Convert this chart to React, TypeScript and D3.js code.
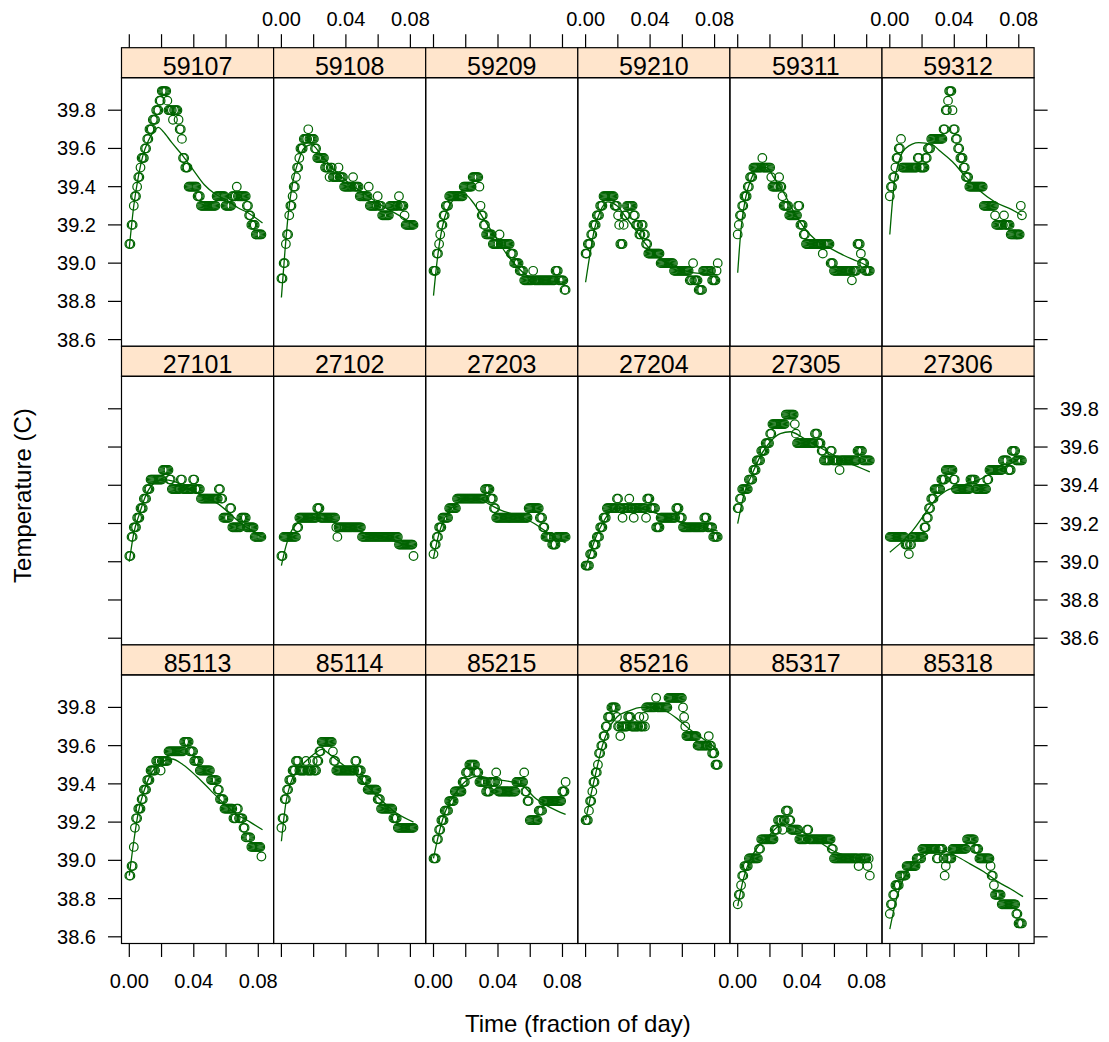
import React from 'react';
import * as d3 from 'd3';

// panel labels, in the order they are shown (left to right, top to bottom)
const panelIds = [
  '59107', '59108', '59209', '59210', '59311', '59312',
  '27101', '27102', '27203', '27204', '27305', '27306',
  '85113', '85114', '85215', '85216', '85317', '85318',
];

// readings one minute apart, written as [temperature, number of consecutive readings]
const runs59107 = [[39.10,2],[39.20,2],[39.30,1],[39.35,2],[39.40,1],[39.45,2],[39.50,1],[39.55,3],[39.60,2],[39.65,2],[39.70,3],[39.75,3],[39.80,3],[39.85,2],[39.90,5],[39.85,1],[39.80,4],[39.75,1],[39.80,4],[39.75,1],[39.70,2],[39.65,1],[39.55,2],[39.50,3],[39.40,8],[39.35,3],[39.30,14],[39.35,8],[39.30,6],[39.35,4],[39.40,1],[39.35,8],[39.30,2],[39.25,2],[39.20,4],[39.15,6]];
const runs59108 = [[38.92,2],[39.00,2],[39.10,1],[39.15,2],[39.25,1],[39.30,2],[39.35,1],[39.40,2],[39.45,1],[39.50,2],[39.55,1],[39.60,3],[39.65,4],[39.70,1],[39.65,5],[39.60,2],[39.55,7],[39.50,4],[39.45,1],[39.50,2],[39.45,5],[39.50,1],[39.45,4],[39.40,8],[39.45,1],[39.40,5],[39.35,8],[39.40,1],[39.30,7],[39.35,1],[39.30,3],[39.25,7],[39.30,8],[39.35,1],[39.30,4],[39.25,1],[39.20,8]];
const runs59209 = [[38.96,3],[39.05,2],[39.10,1],[39.15,1],[39.20,2],[39.25,2],[39.30,3],[39.35,13],[39.40,8],[39.45,6],[39.40,1],[39.30,1],[39.25,2],[39.20,2],[39.15,6],[39.10,6],[39.15,1],[39.10,9],[39.05,3],[39.00,5],[38.96,4],[38.91,8],[38.96,1],[38.91,19],[38.96,3],[38.91,5],[38.86,2]];
const runs59210 = [[39.05,2],[39.10,3],[39.15,2],[39.20,3],[39.25,3],[39.30,3],[39.35,10],[39.30,3],[39.25,1],[39.20,1],[39.10,3],[39.20,1],[39.25,2],[39.30,6],[39.25,2],[39.20,3],[39.15,2],[39.20,2],[39.15,2],[39.10,2],[39.05,11],[39.00,12],[38.96,14],[38.91,3],[39.00,1],[38.91,4],[38.86,4],[38.96,8],[38.91,4],[38.96,1],[39.00,1]];
const runs59311 = [[39.15,1],[39.20,1],[39.25,2],[39.30,2],[39.35,3],[39.40,2],[39.45,3],[39.50,8],[39.55,1],[39.50,7],[39.45,1],[39.40,6],[39.45,1],[39.40,2],[39.35,1],[39.30,5],[39.25,8],[39.30,2],[39.20,3],[39.15,2],[39.10,15],[39.05,1],[39.10,6],[39.00,3],[38.96,16],[38.91,1],[38.96,4],[39.10,3],[39.05,1],[39.00,3],[38.96,5]];
const runs59312 = [[39.35,1],[39.40,2],[39.45,2],[39.50,1],[39.55,2],[39.60,2],[39.65,1],[39.50,14],[39.55,2],[39.50,5],[39.55,2],[39.60,3],[39.65,11],[39.70,2],[39.80,2],[39.85,1],[39.90,3],[39.80,1],[39.70,2],[39.65,2],[39.60,2],[39.55,3],[39.50,2],[39.45,3],[39.40,13],[39.30,10],[39.25,1],[39.20,7],[39.25,1],[39.20,5],[39.15,9],[39.30,1],[39.25,1]];
const runs27101 = [[39.03,2],[39.13,2],[39.18,3],[39.23,3],[39.28,3],[39.33,3],[39.38,3],[39.43,11],[39.48,6],[39.43,2],[39.38,8],[39.43,2],[39.38,9],[39.43,2],[39.38,5],[39.33,16],[39.38,2],[39.33,2],[39.23,6],[39.28,2],[39.18,8],[39.23,5],[39.18,7],[39.13,7]];
const runs27102 = [[39.03,2],[39.13,12],[39.18,2],[39.23,16],[39.28,3],[39.23,14],[39.18,1],[39.13,1],[39.18,21],[39.13,33],[39.09,13],[39.03,1]];
const runs27203 = [[39.04,1],[39.09,2],[39.13,2],[39.18,3],[39.23,6],[39.28,7],[39.33,25],[39.38,5],[39.33,3],[39.28,2],[39.23,29],[39.28,10],[39.23,3],[39.18,2],[39.13,6],[39.09,4],[39.13,9]];
const runs27204 = [[38.98,4],[39.04,3],[39.09,3],[39.13,3],[39.18,3],[39.23,3],[39.28,9],[39.33,2],[39.28,3],[39.23,1],[39.28,5],[39.33,1],[39.28,3],[39.23,1],[39.28,10],[39.23,1],[39.33,3],[39.28,5],[39.18,4],[39.23,14],[39.28,3],[39.23,3],[39.18,19],[39.23,3],[39.18,5],[39.13,5]];
const runs27305 = [[39.28,2],[39.33,2],[39.38,6],[39.43,4],[39.48,3],[39.53,4],[39.58,4],[39.62,4],[39.67,2],[39.72,12],[39.77,8],[39.72,1],[39.67,1],[39.62,16],[39.67,3],[39.62,3],[39.58,2],[39.53,6],[39.58,2],[39.53,6],[39.48,1],[39.53,15],[39.58,5],[39.53,7]];
const runs27306 = [[39.13,14],[39.09,3],[39.04,1],[39.09,2],[39.13,11],[39.18,2],[39.23,2],[39.28,2],[39.33,3],[39.38,6],[39.43,4],[39.48,7],[39.43,2],[39.38,13],[39.43,5],[39.38,10],[39.43,2],[39.48,12],[39.53,5],[39.48,3],[39.58,4],[39.53,6]];
const runs85113 = [[38.92,2],[38.97,2],[39.07,1],[39.17,1],[39.22,2],[39.27,3],[39.32,2],[39.37,3],[39.42,3],[39.47,5],[39.52,4],[39.47,1],[39.52,6],[39.57,14],[39.62,5],[39.57,4],[39.52,5],[39.47,10],[39.42,6],[39.37,2],[39.32,4],[39.27,8],[39.22,3],[39.27,2],[39.22,4],[39.17,2],[39.12,5],[39.07,9],[39.02,1]];
const runs85114 = [[39.17,1],[39.22,2],[39.32,2],[39.37,2],[39.42,3],[39.47,3],[39.52,3],[39.47,6],[39.52,1],[39.47,5],[39.52,1],[39.47,3],[39.52,2],[39.57,2],[39.62,10],[39.57,1],[39.52,2],[39.47,17],[39.52,2],[39.47,4],[39.42,5],[39.37,9],[39.32,3],[39.27,11],[39.22,4],[39.17,15]];
const runs85215 = [[39.01,3],[39.11,2],[39.16,2],[39.21,3],[39.26,4],[39.31,5],[39.36,7],[39.41,3],[39.46,3],[39.50,6],[39.46,3],[39.41,6],[39.36,4],[39.41,5],[39.46,1],[39.41,1],[39.36,16],[39.41,7],[39.46,1],[39.36,2],[39.31,2],[39.21,8],[39.26,4],[39.31,17],[39.36,3],[39.41,1]];
const runs85216 = [[39.21,3],[39.26,1],[39.31,2],[39.36,1],[39.41,2],[39.46,2],[39.50,1],[39.56,2],[39.60,2],[39.65,2],[39.70,2],[39.75,3],[39.80,5],[39.75,1],[39.70,2],[39.65,1],[39.70,6],[39.75,3],[39.70,7],[39.75,1],[39.70,3],[39.75,1],[39.70,1],[39.80,9],[39.85,1],[39.80,10],[39.85,13],[39.80,1],[39.75,1],[39.70,1],[39.65,10],[39.60,10],[39.65,1],[39.60,2],[39.56,3],[39.50,3]];
const runs85317 = [[38.77,1],[38.82,2],[38.87,1],[38.92,2],[38.97,4],[39.01,9],[39.06,2],[39.11,12],[39.16,3],[39.21,4],[39.16,1],[39.21,2],[39.26,3],[39.21,2],[39.16,7],[39.11,7],[39.16,2],[39.11,20],[39.06,2],[39.01,22],[38.97,1],[39.01,7],[38.97,1],[39.01,1],[38.92,1]];
const runs85318 = [[38.72,1],[38.77,2],[38.82,2],[38.87,4],[38.92,6],[38.97,9],[39.01,5],[39.06,13],[39.01,2],[39.06,4],[39.01,1],[38.92,1],[38.97,1],[39.01,5],[39.06,13],[39.11,7],[39.06,4],[39.01,10],[38.97,1],[38.92,2],[38.87,1],[38.82,6],[38.77,13],[38.72,2],[38.67,4]];

// fitted curves, [minute, temperature]
const fit59107 = [[0,39.08],[4,39.30],[8,39.45],[12,39.56],[17,39.64],[22,39.69],[26,39.71],[30,39.69],[38,39.63],[48,39.56],[58,39.48],[67,39.41],[77,39.36],[87,39.33],[97,39.29],[107,39.26],[119,39.21]];
const fit59108 = [[0,38.82],[3,39.05],[6,39.25],[10,39.42],[15,39.53],[20,39.60],[27,39.62],[35,39.57],[45,39.50],[60,39.42],[75,39.36],[90,39.30],[105,39.25],[119,39.20]];
const fit59209 = [[0,38.83],[3,39.00],[6,39.13],[10,39.24],[15,39.31],[22,39.35],[28,39.36],[35,39.32],[45,39.23],[55,39.14],[65,39.05],[75,38.98],[85,38.93],[100,38.91],[118,38.90]];
const fit59210 = [[0,38.90],[4,39.05],[8,39.18],[13,39.27],[20,39.32],[28,39.30],[36,39.24],[45,39.17],[55,39.09],[65,39.03],[80,38.98],[95,38.95],[118,38.94]];
const fit59311 = [[0,38.95],[3,39.18],[7,39.34],[12,39.44],[18,39.50],[26,39.50],[32,39.45],[40,39.38],[50,39.27],[60,39.18],[70,39.12],[82,39.08],[95,39.04],[107,39.01],[118,38.98]];
const fit59312 = [[0,39.15],[4,39.42],[8,39.53],[14,39.60],[26,39.63],[38,39.62],[44,39.59],[56,39.53],[68,39.45],[80,39.38],[94,39.32],[109,39.28],[118,39.25]];
const fit27101 = [[0,39.00],[4,39.15],[9,39.25],[15,39.35],[22,39.41],[30,39.43],[40,39.42],[50,39.39],[60,39.36],[70,39.33],[80,39.30],[90,39.25],[100,39.20],[110,39.16],[118,39.13]];
const fit27102 = [[0,38.98],[4,39.08],[8,39.15],[14,39.20],[22,39.23],[32,39.23],[45,39.21],[60,39.18],[75,39.15],[90,39.13],[105,39.10],[118,39.08]];
const fit27203 = [[0,39.02],[5,39.15],[10,39.23],[20,39.30],[30,39.33],[40,39.33],[50,39.30],[60,39.27],[70,39.25],[80,39.23],[90,39.20],[100,39.16],[110,39.12],[118,39.10]];
const fit27204 = [[0,38.97],[5,39.06],[10,39.14],[15,39.20],[22,39.26],[30,39.28],[45,39.28],[60,39.26],[75,39.23],[90,39.20],[105,39.18],[118,39.16]];
const fit27305 = [[0,39.20],[6,39.36],[13,39.46],[20,39.55],[28,39.62],[38,39.67],[47,39.68],[58,39.65],[70,39.61],[82,39.57],[94,39.53],[106,39.50],[118,39.47]];
const fit27306 = [[0,39.05],[10,39.10],[20,39.16],[30,39.24],[40,39.32],[50,39.37],[60,39.39],[70,39.41],[80,39.43],[90,39.46],[100,39.49],[110,39.52],[118,39.55]];
const fit85113 = [[0,38.92],[4,39.10],[8,39.25],[13,39.36],[20,39.46],[28,39.51],[38,39.53],[48,39.50],[60,39.44],[72,39.37],[84,39.30],[96,39.24],[108,39.20],[119,39.16]];
const fit85114 = [[0,39.10],[4,39.30],[8,39.40],[14,39.47],[22,39.52],[30,39.56],[36,39.58],[44,39.55],[55,39.50],[66,39.45],[78,39.38],[90,39.31],[102,39.25],[118,39.20]];
const fit85215 = [[0,39.01],[4,39.12],[9,39.23],[15,39.31],[22,39.37],[30,39.42],[40,39.44],[50,39.43],[60,39.42],[70,39.41],[80,39.39],[90,39.33],[100,39.29],[110,39.26],[118,39.24]];
const fit85216 = [[0,39.21],[5,39.35],[10,39.48],[15,39.60],[20,39.68],[28,39.75],[38,39.78],[50,39.80],[62,39.80],[72,39.78],[82,39.74],[92,39.69],[104,39.64],[118,39.58]];
const fit85317 = [[0,38.76],[5,38.90],[10,38.99],[18,39.07],[28,39.13],[38,39.18],[48,39.18],[60,39.14],[72,39.10],[85,39.05],[100,39.02],[118,39.00]];
const fit85318 = [[0,38.64],[6,38.80],[12,38.90],[20,38.97],[30,39.02],[40,39.05],[48,39.05],[60,39.02],[72,38.98],[84,38.94],[96,38.89],[108,38.85],[119,38.81]];

const runsList = [runs59107, runs59108, runs59209, runs59210, runs59311, runs59312, runs27101, runs27102, runs27203, runs27204, runs27305, runs27306, runs85113, runs85114, runs85215, runs85216, runs85317, runs85318];
const fitList = [fit59107, fit59108, fit59209, fit59210, fit59311, fit59312, fit27101, fit27102, fit27203, fit27204, fit27305, fit27306, fit85113, fit85114, fit85215, fit85216, fit85317, fit85318];

const xTicks = [0, 0.02, 0.04, 0.06, 0.08];
const xLabelTicks = [0, 0.04, 0.08];
const yTicks = [38.6, 38.8, 39.0, 39.2, 39.4, 39.6, 39.8];

const MINUTES_PER_DAY = 1440;
const FONT = '"Liberation Sans", Arial, Helvetica, sans-serif';
const GREEN = '#006400';

const W = 1109;
const H = 1042;
const left = 121.5;
const colW = 152.1;
const top = 47.7;
const stripH = 30;
const rowH = 298.6;
const panelH = rowH - stripH;
const nCols = 6;
const nRows = 3;
const tickLen = 13.5;

const x = d3.scaleLinear().domain([-0.00484, 0.0895]).range([0, colW]);
const y = d3.scaleLinear().domain([38.565, 39.97]).range([panelH, 0]);

const expand = (runs: number[][]) => {
  const pts: [number, number][] = [];
  let m = 0;
  runs.forEach(([t, n]) => {
    for (let k = 0; k < n; k++) {
      pts.push([m / MINUTES_PER_DAY, t]);
      m++;
    }
  });
  return pts;
};

const line = d3.line<number[]>()
  .x(d => x(d[0] / MINUTES_PER_DAY))
  .y(d => y(d[1]))
  .curve(d3.curveMonotoneX);

const fmtX = d3.format('.2f');
const fmtY = d3.format('.1f');

export default function App() {
  const panels = panelIds.map((id, i) => ({ id, pts: expand(runsList[i]), fit: fitList[i] }));
  const bottomY = top + nRows * rowH;
  const rightX = left + nCols * colW;

  return (
    <svg width={W} height={H} style={{ position: 'absolute', left: 0, top: 0, display: 'block' }}
      fontFamily={FONT}>
      <rect width={W} height={H} fill="#fff" />

      {panels.map((p, i) => {
        const c = i % nCols;
        const r = Math.floor(i / nCols);
        const px = left + c * colW;
        const sy = top + r * rowH;
        const py = sy + stripH;
        return (
          <g key={p.id}>
            <rect x={px} y={sy} width={colW} height={stripH} fill="#ffe5cc" stroke="#000" strokeWidth={1.2} />
            <text x={px + colW / 2} y={sy + stripH - 3} textAnchor="middle" fontSize={25} fill="#000">{p.id}</text>
            <g transform={`translate(${px},${py})`}>
              {p.pts.map((d, k) => (
                <circle key={k} cx={x(d[0])} cy={y(d[1])} r={4.3} fill="none" stroke={GREEN} strokeWidth={1.2} />
              ))}
              <path d={line(p.fit) || ''} fill="none" stroke={GREEN} strokeWidth={1.3} />
            </g>
            <rect x={px} y={py} width={colW} height={panelH} fill="none" stroke="#000" strokeWidth={1.2} />
          </g>
        );
      })}

      {/* top and bottom axes */}
      {d3.range(nCols).map(c => {
        const px = left + c * colW;
        return (
          <g key={'x' + c}>
            {xTicks.map(t => (
              <g key={t}>
                <line x1={px + x(t)} x2={px + x(t)} y1={top} y2={top - tickLen} stroke="#000" strokeWidth={1.2} />
                <line x1={px + x(t)} x2={px + x(t)} y1={bottomY} y2={bottomY + tickLen} stroke="#000" strokeWidth={1.2} />
              </g>
            ))}
            {xLabelTicks.map(t => (
              c % 2 === 1
                ? <text key={'t' + t} x={px + x(t)} y={25.5} textAnchor="middle" fontSize={20}>{fmtX(t)}</text>
                : <text key={'b' + t} x={px + x(t)} y={987.5} textAnchor="middle" fontSize={20}>{fmtX(t)}</text>
            ))}
          </g>
        );
      })}

      {/* left and right axes */}
      {d3.range(nRows).map(r => {
        const py = top + r * rowH + stripH;
        return (
          <g key={'y' + r}>
            {yTicks.map(t => (
              <g key={t}>
                <line x1={left} x2={left - tickLen} y1={py + y(t)} y2={py + y(t)} stroke="#000" strokeWidth={1.2} />
                <line x1={rightX} x2={rightX + tickLen} y1={py + y(t)} y2={py + y(t)} stroke="#000" strokeWidth={1.2} />
                {r % 2 === 0
                  ? <text x={96} y={py + y(t) + 7} textAnchor="end" fontSize={20}>{fmtY(t)}</text>
                  : <text x={1060} y={py + y(t) + 7} textAnchor="start" fontSize={20}>{fmtY(t)}</text>}
              </g>
            ))}
          </g>
        );
      })}

      <text x={left + (nCols * colW) / 2} y={1031.5} textAnchor="middle" fontSize={24}>Time (fraction of day)</text>
      <text transform={`translate(31,${top + (nRows * rowH) / 2}) rotate(-90)`} textAnchor="middle" fontSize={24}>Temperature (C)</text>
    </svg>
  );
}
